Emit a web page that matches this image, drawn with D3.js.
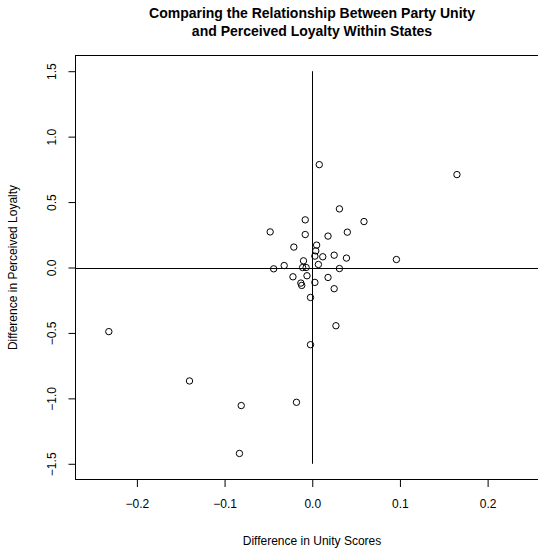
<!DOCTYPE html>
<html>
<head>
<meta charset="utf-8">
<script src="https://cdn.jsdelivr.net/npm/d3@7"></script>
<style>
  body { margin: 0; background: white; }
  text { font-family: 'Liberation Sans', Arial, Helvetica, sans-serif; }
</style>
</head>
<body>
<script>
// Difference in Unity Scores vs Difference in Perceived Loyalty
const unityDiff = [
  -0.232, -0.140, -0.081, -0.083, -0.018, 0.165,
  0.008, 0.031, 0.059, -0.008, -0.048, 0.040, -0.008, 0.018,
  -0.021, 0.005, 0.004, 0.003, 0.012, 0.025, 0.039, 0.096,
  -0.010, -0.032, -0.044, -0.011, -0.007, 0.007, 0.031,
  -0.022, -0.006, 0.018, -0.013, -0.012, 0.003, 0.025,
  -0.002, 0.027, -0.002
]
const loyaltyDiff = [
  -0.49, -0.867, -1.055, -1.421, -1.03, 0.71,
  0.786, 0.448, 0.351, 0.364, 0.272, 0.27, 0.252, 0.24,
  0.156, 0.171, 0.127, 0.087, 0.082, 0.094, 0.072, 0.061,
  0.051, 0.015, -0.01, 0.0, 0.0, 0.023, -0.008,
  -0.071, -0.063, -0.076, -0.119, -0.137, -0.114, -0.162,
  -0.229, -0.445, -0.59
]
const xTicks = [-0.2, -0.1, 0.0, 0.1, 0.2]
const yTicks = [-1.5, -1.0, -0.5, 0.0, 0.5, 1.0, 1.5]

const width = 538, height = 548
const mLeft = 75.5, mTop = 55.5, mRight = 549, mBottom = 479.5

const svg = d3.select('body').append('svg')
    .attr('width', width).attr('height', height)

const x = d3.scaleLinear().domain([-0.27, 0.27]).range([mLeft, mRight])
const y = d3.scaleLinear().domain([-1.62, 1.62]).range([mBottom, mTop])

// Titre
svg.append('text').text('Comparing the Relationship Between Party Unity')
    .attr('x', 312).attr('y', 18).attr('text-anchor', 'middle')
    .attr('font-weight', 'bold').attr('font-size', 14)
svg.append('text').text('and Perceived Loyalty Within States')
    .attr('x', 312).attr('y', 36).attr('text-anchor', 'middle')
    .attr('font-weight', 'bold').attr('font-size', 14)

// Box
svg.append('rect')
    .attr('x', mLeft).attr('y', mTop)
    .attr('width', mRight - mLeft).attr('height', mBottom - mTop)
    .attr('fill', 'none').attr('stroke', 'black').attr('stroke-width', 1)

// Axes
const xAxis = d3.axisBottom(x).tickValues(xTicks).tickSize(7).tickPadding(12)
    .tickFormat(d3.format('.1f'))
const gx = svg.append('g').attr('transform', `translate(0,${mBottom + 0.5})`).call(xAxis)
gx.select('.domain').remove()

const yAxis = d3.axisLeft(y).tickValues(yTicks).tickSize(7).tickPadding(0)
    .tickFormat(d3.format('.1f'))
const gy = svg.append('g').attr('transform', `translate(${mLeft},0)`).call(yAxis)
gy.select('.domain').remove()
gy.selectAll('.tick text')
    .attr('transform', 'rotate(-90)')
    .attr('x', 0).attr('y', -24)
    .attr('dy', '0.35em')
    .attr('text-anchor', 'middle')

svg.selectAll('.tick text')
    .attr('font-size', 12).attr('fill', 'black')
    .style('font-family', "'Liberation Sans', Arial, sans-serif")
    .text(d => d3.format('.1f')(d).replace('-', '\u2212'))
svg.selectAll('.tick line').attr('stroke', 'black')

// Axis titles
svg.append('text').text('Difference in Unity Scores')
    .attr('x', 312).attr('y', 545).attr('text-anchor', 'middle').attr('font-size', 12)
svg.append('text').text('Difference in Perceived Loyalty')
    .attr('transform', `translate(17,${y(0)}) rotate(-90)`)
    .attr('text-anchor', 'middle').attr('font-size', 12)

// Reference lines
svg.append('clipPath').attr('id', 'plotclip')
    .append('rect').attr('x', mLeft).attr('y', mTop)
    .attr('width', mRight - mLeft).attr('height', mBottom - mTop)
svg.append('line')
    .attr('x1', mLeft).attr('x2', mRight)
    .attr('y1', Math.round(y(0)) + 0.5).attr('y2', Math.round(y(0)) + 0.5)
    .attr('stroke', 'black')
svg.append('line')
    .attr('x1', Math.round(x(0)) + 0.5).attr('x2', Math.round(x(0)) + 0.5)
    .attr('y1', y(1.5)).attr('y2', y(-1.5))
    .attr('stroke', 'black')

// Points
svg.append('g').attr('clip-path', 'url(#plotclip)')
  .selectAll('circle')
  .data(unityDiff.map((d, i) => [d, loyaltyDiff[i]]))
  .join('circle')
    .attr('cx', d => x(d[0])).attr('cy', d => y(d[1]))
    .attr('r', 3.2)
    .attr('fill', 'none').attr('stroke', 'black').attr('stroke-width', 1)
</script>
</body>
</html>
